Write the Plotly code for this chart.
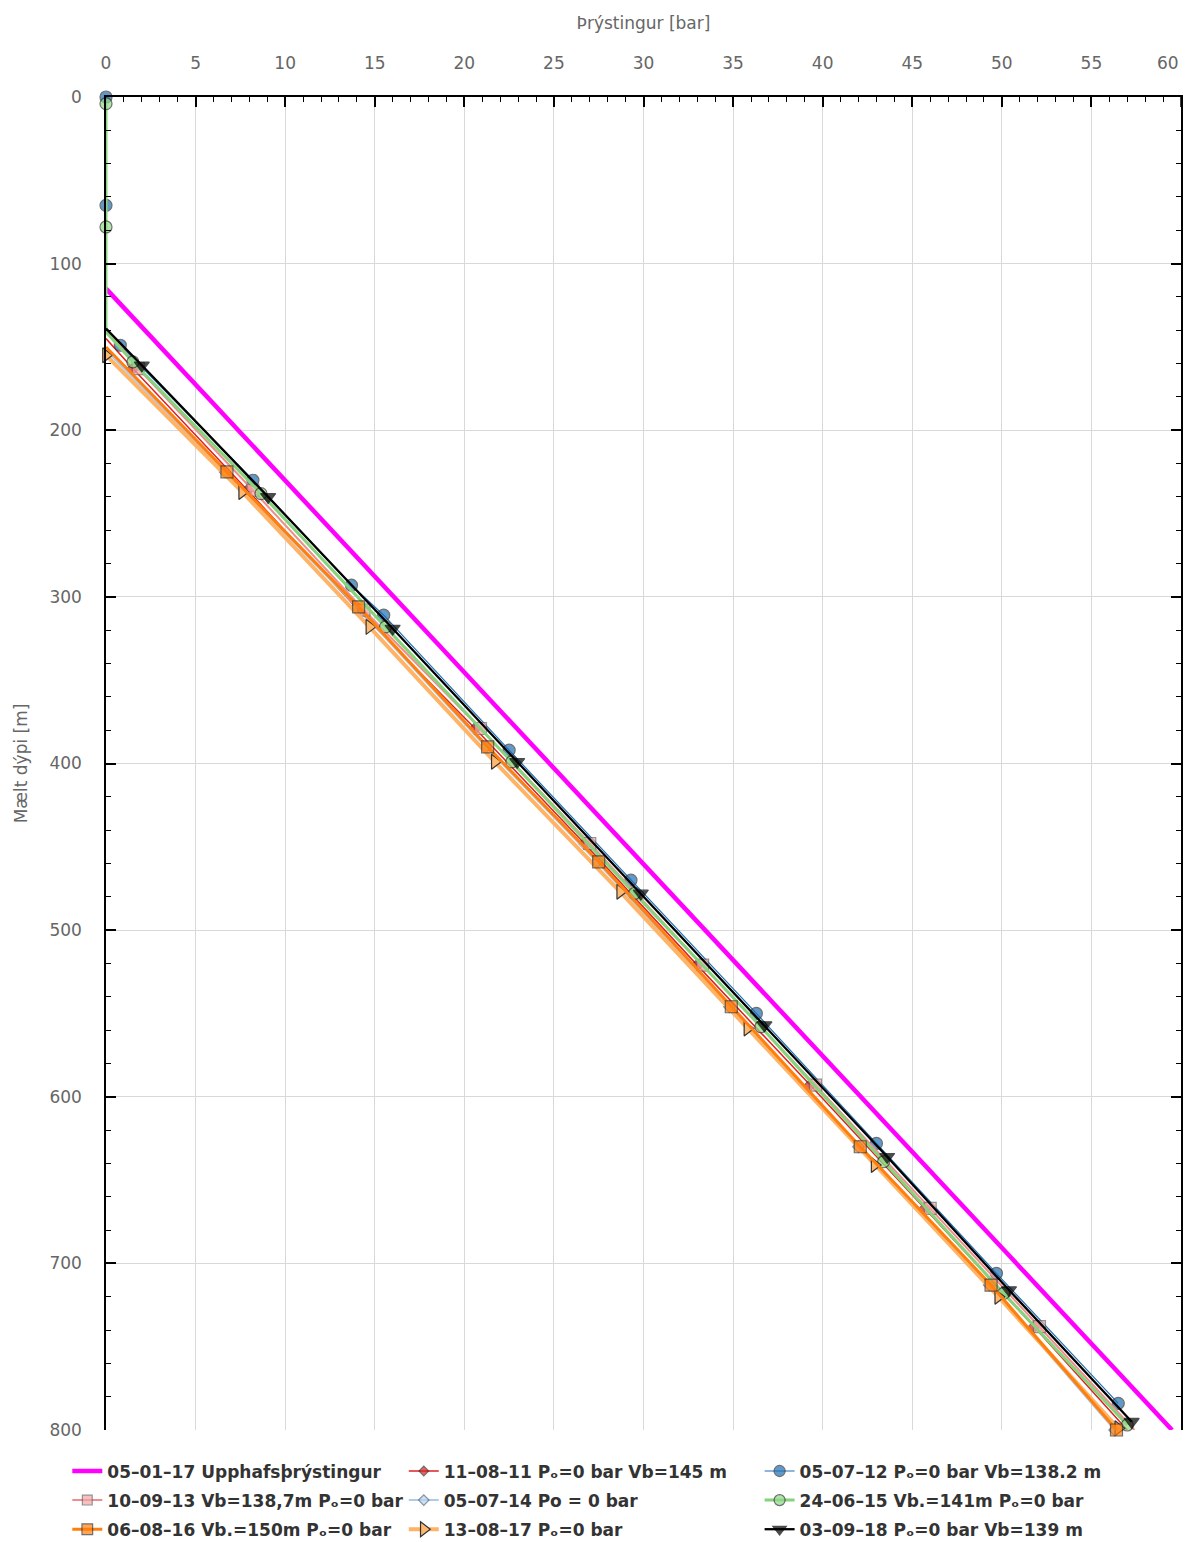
import plotly.graph_objects as go

# ---------------- data (pressure [bar], depth [m]) ----------------
upphaf_p = [0.0, 59.5]
upphaf_d = [115, 800]

s110811_p = [0.0, 1.5, 7.9, 14.1, 20.6, 26.7, 33.0, 39.3, 45.7, 51.8, 57.0]
s110811_d = [145, 163, 236, 308, 379, 448, 521, 593, 667, 738, 800]

s050712_p = [0.0, 0.0, 0.0, 0.8, 8.2, 13.7, 15.5, 22.5, 29.3, 36.3, 43.0, 49.7, 56.5]
s050712_d = [0, 65, 138.2, 149, 230, 293, 311, 392, 470, 550, 628, 706, 784]

s100913_p = [0.0, 1.8, 8.2, 14.4, 20.9, 27.0, 33.3, 39.6, 46.0, 52.1, 57.4]
s100913_d = [138.7, 163, 236, 308, 379, 448, 521, 593, 667, 738, 800]

s050714_p = [0.0, 6.65, 14.0, 21.2, 27.4, 34.8, 42.0, 49.3, 56.3]
s050714_d = [152, 225, 306, 390, 459, 546, 630, 713, 800]

s240615_p = [0.0, 0.0, 0.0, 1.5, 8.65, 15.6, 22.65, 29.5, 36.55, 43.4, 50.1, 57.0]
s240615_d = [4, 78, 141, 159, 238, 318, 399, 478, 558, 639, 718, 797]

s060816_p = [0.0, 6.75, 14.1, 21.3, 27.5, 34.9, 42.1, 49.4, 56.4]
s060816_d = [150, 225, 306, 390, 459, 546, 630, 713, 800]

s130817_p = [0.0, 7.6, 14.7, 21.7, 28.7, 35.8, 42.9, 49.8, 56.5]
s130817_d = [155, 237, 318, 399, 477, 559, 641, 720, 799]

s030918_p = [0.0, 2.0, 9.05, 16.0, 22.95, 29.85, 36.75, 43.6, 50.4, 57.25]
s030918_d = [139, 161, 240, 319, 399, 478, 557, 636, 716, 795]

x_ticks = [0, 5, 10, 15, 20, 25, 30, 35, 40, 45, 50, 55, 60]

names = {
    "upphaf": "05–01–17 Upphafsþrýstingur",
    "s110811": "11–08–11 Pₒ=0 bar Vb=145 m",
    "s050712": "05–07–12 Pₒ=0 bar Vb=138.2 m",
    "s100913": "10–09–13 Vb=138,7m Pₒ=0 bar",
    "s050714": "05–07–14 Po = 0 bar",
    "s240615": "24–06–15 Vb.=141m Pₒ=0 bar",
    "s060816": "06–08–16 Vb.=150m Pₒ=0 bar",
    "s130817": "13–08–17 Pₒ=0 bar",
    "s030918": "03–09–18 Pₒ=0 bar Vb=139 m",
}

fig = go.Figure()

def add(x, y, name, lcolor, lwidth, symbol=None, mcolor=None, msize=11, mline="#333333",
        legend="legend", sizes=None):
    kw = dict(x=x, y=y, name=name, legend=legend, legendgroup=name,
              line=dict(color=lcolor, width=lwidth), cliponaxis=False)
    if symbol is None:
        kw["mode"] = "lines"
    else:
        kw["mode"] = "lines+markers"
        kw["marker"] = dict(symbol=symbol, color=mcolor, size=sizes if sizes is not None else msize,
                            line=dict(color=mline, width=1.2))
    fig.add_trace(go.Scatter(**kw))

def sz(n, s, hide_first=0, hide_last=0):
    return [0] * hide_first + [s] * (n - hide_first - hide_last) + [0] * hide_last

add(upphaf_p, upphaf_d, names["upphaf"], "#FF00FF", 4.5, legend="legend")
add(s110811_p, s110811_d, names["s110811"], "#E02020", 1.5, "diamond", "#E02020", 9,
    legend="legend2", sizes=sz(len(s110811_p), 9, 1, 1))
add(s050714_p, s050714_d, names["s050714"], "#AECBEB", 2, "diamond", "#B9D3F2", 9,
    mline="#556677", legend="legend2", sizes=sz(len(s050714_p), 9, 1))
add(s050712_p, s050712_d, names["s050712"], "#1F6FB5", 1.2, "circle", "#1F6FB5", 12,
    legend="legend3", sizes=[12, 12, 0] + [12] * (len(s050712_p) - 3))
add(s100913_p, s100913_d, names["s100913"], "#F08C8C", 2, "square", "#F4A6A6", 12,
    mline="#666666", legend="legend", sizes=sz(len(s100913_p), 12, 1, 1))
add(s240615_p, s240615_d, names["s240615"], "#86D37E", 3, "circle", "#90DA88", 12,
    legend="legend3", sizes=[12, 12, 0] + [12] * (len(s240615_p) - 3))
add(s130817_p, s130817_d, names["s130817"], "#FFB366", 4, "triangle-right", "#FFB870", 13,
    legend="legend2")
add(s060816_p, s060816_d, names["s060816"], "#FF7F0E", 3, "square", "#FF7F0E", 12,
    legend="legend", sizes=sz(len(s060816_p), 12, 1))
add(s030918_p, s030918_d, names["s030918"], "#000000", 2.3, "triangle-down", "#000000", 13,
    mline="#000000", legend="legend3", sizes=sz(len(s030918_p), 13, 1))

tickfont = dict(family="DejaVu Sans", size=17, color="#666666")
titlefont = dict(family="DejaVu Sans", size=17, color="#666666")
legfont = dict(family="DejaVu Sans", size=17, color="#333333", weight="bold")

def leg(x):
    return dict(x=x, xanchor="left", y=-0.0176, yanchor="top", orientation="v",
                font=legfont, tracegroupgap=4, bgcolor="rgba(0,0,0,0)",
                itemwidth=30, traceorder="grouped")

fig.update_layout(
    width=1185, height=1542,
    margin=dict(l=106, r=4, t=97, b=112, autoexpand=False),
    paper_bgcolor="white", plot_bgcolor="white",
    font=dict(family="DejaVu Sans", color="#666666"),
    showlegend=True,
    legend=leg(-0.036),
    legend2=leg(0.277),
    legend3=leg(0.608),
    xaxis=dict(
        side="top", range=[0, 60], tickvals=x_ticks[:-1], ticks="inside", ticklen=10,
        tickwidth=1.5, tickcolor="black", showline=True, linecolor="black", linewidth=1.5,
        showgrid=True, gridcolor="#D9D9D9", gridwidth=1, zeroline=False,
        tickfont=tickfont, ticklabelstandoff=19, automargin=False,
        minor=dict(dtick=1, tick0=0, ticks="inside", ticklen=5, tickcolor="black", tickwidth=1.2,
                   showgrid=False),
        title=dict(text="Þrýstingur [bar]", font=titlefont, standoff=20),
    ),
    yaxis=dict(
        range=[800, 0], tick0=0, dtick=100, ticks="inside", ticklen=10, tickwidth=1.5,
        tickcolor="black", showline=True, linecolor="black", linewidth=1.5, mirror="ticks",
        showgrid=True, gridcolor="#D9D9D9", gridwidth=1, zeroline=False,
        tickfont=tickfont, ticklabelstandoff=19, automargin=False,
        minor=dict(dtick=20, ticks="inside", ticklen=5, tickcolor="black", tickwidth=1.2, showgrid=False),
        title=dict(text="Mælt dýpi [m]", font=titlefont, standoff=17),
    ),
)

# last x tick label (60) sits at the right edge; place it right-aligned like the original
fig.add_annotation(x=x_ticks[-1], xref="x", y=1, yref="paper", yanchor="bottom", xanchor="right",
                   text=str(x_ticks[-1]), showarrow=False, font=tickfont, yshift=22)
fig.add_shape(type="line", xref="x", yref="paper", x0=x_ticks[-1], x1=x_ticks[-1], y0=1, y1=0.9925,
              line=dict(color="black", width=1.5))

fig.write_html("out.html")
